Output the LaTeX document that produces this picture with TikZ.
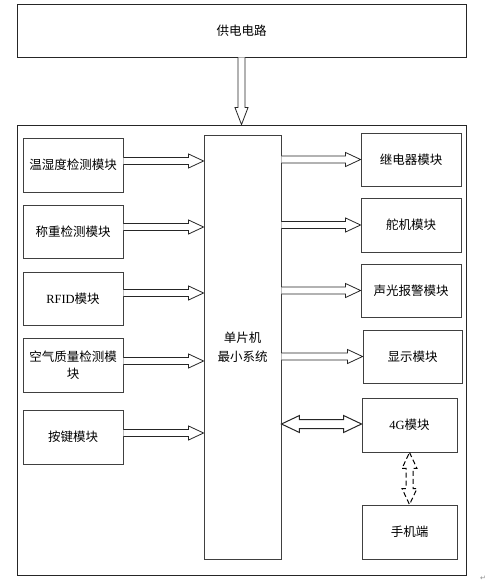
\documentclass[tikz,border=0pt]{standalone}
\usepackage{fontspec}
\setmainfont{Noto Sans CJK SC}
\newfontfamily\latfont{Liberation Serif}
\newfontfamily\symfont{DejaVu Sans}
\usetikzlibrary{calc}
\tikzset{
  box/.style={draw=black!75, line width=0.9pt, inner sep=2pt, align=center,
    font=\fontsize{12.5}{17}\selectfont},
  frame/.style={draw=black!85, line width=0.8pt},
  harrow/.style={draw=black!85, line width=0.8pt, fill=white, line join=miter},
}
% right-pointing hollow arrow; y taken from start
\newcommand\hollowright[2]{%
  \draw[harrow] let \p1=#1, \p2=#2 in
  (\x1,\y1+3.5pt) -- (\x2-15pt,\y1+3.5pt) -- (\x2-15pt,\y1+7pt) -- (\x2,\y1)
  -- (\x2-15pt,\y1-7pt) -- (\x2-15pt,\y1-3.5pt) -- (\x1,\y1-3.5pt);}
% down-pointing hollow arrow; x taken from start
\newcommand\hollowdown[2]{%
  \draw[harrow] let \p1=#1, \p2=#2 in
  (\x1-3.5pt,\y1) -- (\x1-3.5pt,\y2+17pt) -- (\x1-6.5pt,\y2+17pt) -- (\x1,\y2)
  -- (\x1+6.5pt,\y2+17pt) -- (\x1+3.5pt,\y2+17pt) -- (\x1+3.5pt,\y1);}
% horizontal double hollow arrow
\newcommand\hollowboth[2]{%
  \draw[harrow, line width=1pt] let \p1=#1, \p2=#2 in
  (\x1,\y1) -- (\x1+18pt,\y1+8.5pt) -- (\x1+18pt,\y1+4.5pt) -- (\x2-18pt,\y1+4.5pt)
  -- (\x2-18pt,\y1+8.5pt) -- (\x2,\y1) -- (\x2-18pt,\y1-8.5pt) -- (\x2-18pt,\y1-4.5pt)
  -- (\x1+18pt,\y1-4.5pt) -- (\x1+18pt,\y1-8.5pt) -- cycle;}
% vertical double hollow dashed arrow
\newcommand\hollowvboth[2]{%
  \draw[harrow, draw=black, line width=1pt, dash pattern=on 5pt off 3pt] let \p1=#1, \p2=#2 in
  (\x1,\y1) -- (\x1+7.5pt,\y1-16pt) -- (\x1+3.5pt,\y1-16pt) -- (\x1+3.5pt,\y2+16pt)
  -- (\x1+7.5pt,\y2+16pt) -- (\x1,\y2) -- (\x1-7.5pt,\y2+16pt) -- (\x1-3.5pt,\y2+16pt)
  -- (\x1-3.5pt,\y1-16pt) -- (\x1-7.5pt,\y1-16pt) -- cycle;}
\begin{document}
\begin{tikzpicture}[x=1pt, y=-1pt]
\useasboundingbox (0,0) rectangle (499,588);
\fill[white] (0,0) rectangle (499,588);

\node[box, frame, minimum width=449pt, minimum height=53pt] (power) at (241.5,30.5) {供电电路};
\node[frame, minimum width=449pt, minimum height=450pt, inner sep=0pt] (outer) at (241.5,350) {};

\node[box, minimum width=77pt, minimum height=424pt, font=\fontsize{12.5}{19}\selectfont] (mcu) at (242.5,347) {单片机\\最小系统};

\node[box, minimum width=100pt, minimum height=54pt] (l1) at (73,165) {温湿度检测模块};
\node[box, minimum width=100pt, minimum height=53pt] (l2) at (73,231.5) {称重检测模块};
\node[box, minimum width=100pt, minimum height=53pt] (l3) at (73,298.5) {{\latfont RFID}模块};
\node[box, minimum width=100pt, minimum height=54pt] (l4) at (73,365) {空气质量检测模\\块};
\node[box, minimum width=100pt, minimum height=54pt] (l5) at (73,437) {按键模块};

\node[box, minimum width=100pt, minimum height=53pt] (r1) at (411,159.5) {继电器模块};
\node[box, minimum width=100pt, minimum height=54pt] (r2) at (411,225) {舵机模块};
\node[box, minimum width=100pt, minimum height=53pt] (r3) at (411,290.5) {声光报警模块};
\node[box, minimum width=99pt, minimum height=53pt] (r4) at (412.5,356.5) {显示模块};
\node[box, minimum width=95pt, minimum height=54pt] (r5) at (409.5,425) {{\latfont 4G}模块};
\node[box, minimum width=95pt, minimum height=54pt] (r6) at (409.5,532) {手机端};

\hollowdown{(power.south)}{(outer.north)}

\hollowright{($(l1.east)+(0,-4)$)}{(mcu.west)}
\hollowright{($(l2.east)+(0,-4.5)$)}{(mcu.west)}
\hollowright{($(l3.east)+(0,-5.5)$)}{(mcu.west)}
\hollowright{($(l4.east)+(0,-4)$)}{(mcu.west)}
\hollowright{($(l5.east)+(0,-4)$)}{(mcu.west)}

\hollowright{(mcu.east |- r1.west)}{(r1.west)}
\hollowright{(mcu.east |- r2.west)}{(r2.west)}
\hollowright{(mcu.east |- r3.west)}{(r3.west)}
\hollowright{(mcu.east |- r4.west)}{(r4.west)}

\hollowboth{($(mcu.east |- r5.west)+(0,-1)$)}{(r5.west)}
\hollowvboth{(r5.south)}{(r6.north)}

\node[text=black!45, font=\symfont\fontsize{7}{8}\selectfont, inner sep=0pt] (pmark) at (483,578) {↵};
\end{tikzpicture}
\end{document}
